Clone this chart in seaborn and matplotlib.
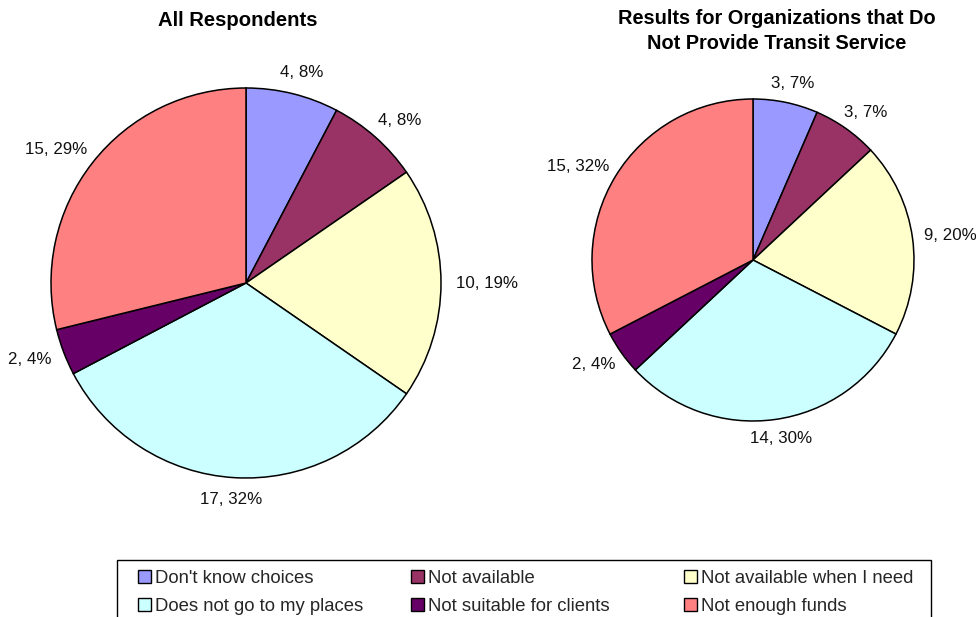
import numpy as np
import matplotlib
matplotlib.use("Agg")
import matplotlib.pyplot as plt
import seaborn as sns
from matplotlib.patches import Patch, Rectangle

sns.set_theme(style="white")
plt.rcParams["font.family"] = ["Liberation Sans", "DejaVu Sans"]

# Survey answers (count and rounded share per reason)
categories = ["Don't know choices", "Not available", "Not available when I need",
              "Does not go to my places", "Not suitable for clients", "Not enough funds"]
all_counts = [4, 4, 10, 17, 2, 15]
all_pcts = [8, 8, 19, 32, 4, 29]
nontransit_counts = [3, 3, 9, 14, 2, 15]
nontransit_pcts = [7, 7, 20, 30, 4, 32]
colors = ["#9999FF", "#993366", "#FFFFCC", "#CCFFFF", "#660066", "#FF8080"]

W, H = 976, 617
fig = plt.figure(figsize=(W / 100, H / 100), dpi=100)
fig.patch.set_facecolor("white")


def pie_axes(cx, cy, r):
    """Axes whose unit circle sits at pixel centre (cx, cy) with radius r."""
    return fig.add_axes([(cx - r) / W, 1 - (cy + r) / H, 2 * r / W, 2 * r / H])


def draw_pie(ax, counts, pcts, label_dist=1.075):
    wedges, _ = ax.pie(counts, colors=colors, startangle=90, counterclock=False,
                       wedgeprops=dict(edgecolor="black", linewidth=1.1))
    ax.set_xlim(-1, 1)
    ax.set_ylim(-1, 1)
    ax.set_aspect("equal")
    ax.axis("off")
    texts = []
    for w, c, p in zip(wedges, counts, pcts):
        theta = np.deg2rad((w.theta1 + w.theta2) / 2)
        anchor = (label_dist * np.cos(theta), label_dist * np.sin(theta))
        t = ax.annotate(f"{c}, {p}%", xy=anchor, xytext=(0, 0),
                        textcoords="offset pixels", ha="center", va="center",
                        fontsize=12.2, color="#111111", annotation_clip=False)
        texts.append((t, theta))
    return texts


ax1 = pie_axes(246, 283, 195)
ax2 = pie_axes(753, 260, 161)
labels1 = draw_pie(ax1, all_counts, all_pcts)
labels2 = draw_pie(ax2, nontransit_counts, nontransit_pcts)

# Push each label outward so its inner edge touches the anchor point
fig.canvas.draw()
renderer = fig.canvas.get_renderer()
for t, theta in labels1 + labels2:
    bb = t.get_window_extent(renderer)
    hw, hh = bb.width / 2, bb.height / 2
    t.xyann = (hw * np.cos(theta), hh * np.sin(theta))

fig.text(238 / W, 1 - 21 / H, "All Respondents", ha="center", va="center",
         fontsize=14.6, fontweight="bold", color="black")
fig.text(777 / W, 1 - 31 / H, "Results for Organizations that Do\nNot Provide Transit Service",
         ha="center", va="center", fontsize=14.4, fontweight="bold", color="black",
         linespacing=1.35)

# Legend: framed box with three fixed-width columns
fig.patches.append(Rectangle((117 / W, -0.05), (931 - 117) / W, (1 - 560 / H) + 0.05,
                             transform=fig.transFigure, facecolor="white",
                             edgecolor="black", linewidth=1.0, zorder=0))
handles = [Patch(facecolor=col, edgecolor="black", linewidth=1.0) for col in colors]
col_x = [134, 407, 680]
for j, x in enumerate(col_x):
    idx = [j, j + 3]
    fig.legend([handles[i] for i in idx], [categories[i] for i in idx],
               loc="upper left", bbox_to_anchor=(x / W, 1 - 566 / H),
               frameon=False, fontsize=13.3, handlelength=0.7,
               handleheight=0.7, handletextpad=0.25, labelspacing=0.6,
               borderpad=0.2, borderaxespad=0)

fig.savefig("out.png", dpi=100, facecolor="white")
